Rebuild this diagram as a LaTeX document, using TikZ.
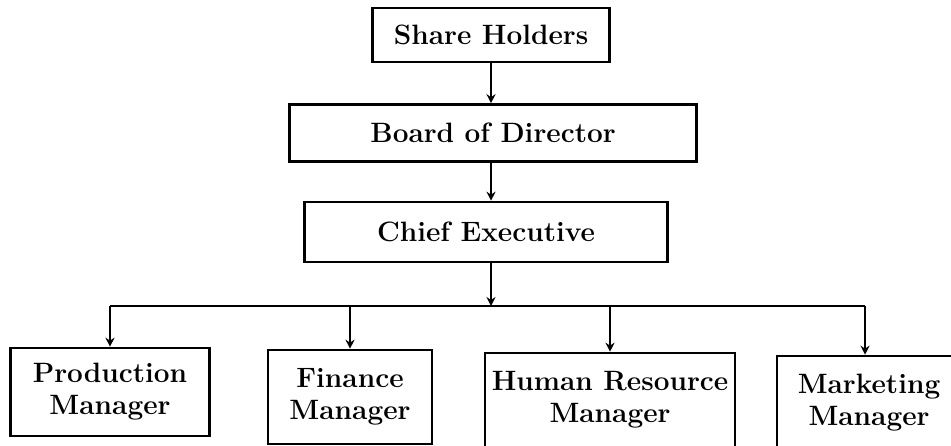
\documentclass[tikz,border=0pt]{standalone}
\usetikzlibrary{arrows.meta}

\tikzset{
  post/.style={draw, line width=1.3pt, align=center, inner sep=2pt,
    font=\fontsize{14}{16}\selectfont\bfseries},
  link/.style={line width=1.2pt, -{Stealth[length=4.5pt,width=4.5pt]}}
}

\begin{document}
\begin{tikzpicture}[x=0.5pt, y=-0.5pt]
    \useasboundingbox (0,0) rectangle (951,445);

    % 上层
    \node[post, minimum width=118.5pt, minimum height=27pt] (share) at (491,35) {Share Holders};
    \node[post, minimum width=203.5pt, minimum height=28.5pt] (board) at (493,133) {Board of Director};
    \node[post, minimum width=181.5pt, minimum height=30pt] (chief) at (486,232) {Chief Executive};

    % 经理层
    \node[post, minimum width=99.5pt, minimum height=44pt] (prod) at (110,392) {Production\\Manager};
    \node[post, minimum width=82pt, minimum height=47pt] (fin) at (350,397) {Finance\\Manager};
    \node[post, minimum width=125pt, minimum height=47pt] (hrm) at (610,400) {Human Resource\\Manager};
    \node[post, minimum width=92pt, minimum height=47pt] (mkt) at (869,403) {Marketing\\Manager};
    \coordinate (mkttop) at (865,0 |- mkt.north);

    % 连线 (竖线都对齐 share)
    \draw[link] (share) -- (share |- board.north);
    \draw[link] (share |- board.south) -- (share |- chief.north);
    \coordinate (bus) at (share |- 0,306);
    \draw[link] (share |- chief.south) -- (bus);
    \draw[line width=1.2pt] (bus -| prod) -- (bus -| mkttop);
    \foreach \m in {prod, fin, hrm, mkttop}
        \draw[link] (bus -| \m) -- (\m);
\end{tikzpicture}
\end{document}
